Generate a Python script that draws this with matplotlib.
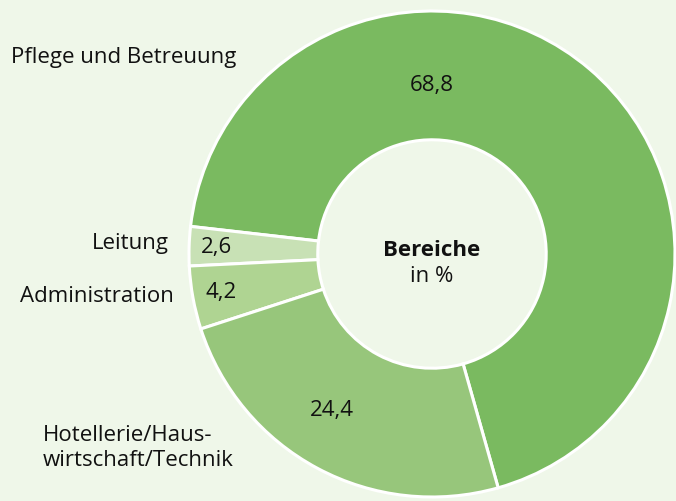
import numpy as np
import matplotlib.pyplot as plt

plt.rcParams['font.family'] = ['Open Sans', 'DejaVu Sans']

# data
bereiche = ['Pflege und Betreuung', 'Leitung', 'Administration',
            'Hotellerie/Haus-\nwirtschaft/Technik']
anteile = [68.8, 2.6, 4.2, 24.4]
werte_text = ['68,8', '2,6', '4,2', '24,4']
farben = ['#7aba60', '#c8e1b5', '#afd492', '#97c67b']

bg = '#eff7e9'
ink = '#111111'
fs = 16
W, H = 676, 501
fig = plt.figure(figsize=(W / 100, H / 100), dpi=100, facecolor=bg)
ax = fig.add_axes([0, 0, 1, 1])
ax.set_facecolor(bg)

cx, cy = 432, H - 254
R = 243
ring = 0.53

wedges, _ = ax.pie(anteile, colors=farben, startangle=-74.2, counterclock=True,
                   center=(cx, cy), radius=R,
                   wedgeprops=dict(width=R * ring, edgecolor='white', linewidth=2.2))
ax.set_xlim(0, W)
ax.set_ylim(0, H)
ax.set_aspect('equal')
ax.axis('off')

# value labels inside the ring (angle override, radius)
label_pos = [(90, 169), (None, 216), (None, 214), (None, 186)]
for w, txt, (ang, r) in zip(wedges, werte_text, label_pos):
    if ang is None:
        ang = (w.theta1 + w.theta2) / 2
    if txt == '24,4':
        ang -= 4.6
    x = cx + r * np.cos(np.radians(ang))
    y = cy + r * np.sin(np.radians(ang))
    ax.text(x, y, txt, ha='center', va='center', fontsize=fs, color=ink)

# category labels on the left
ax.text(11, H - 57, bereiche[0], ha='left', va='center', fontsize=fs, color=ink)
ax.text(169, H - 243, bereiche[1], ha='right', va='center', fontsize=fs, color=ink)
ax.text(174, H - 297, bereiche[2], ha='right', va='center', fontsize=fs, color=ink)
ax.text(43, H - 448, bereiche[3], ha='left', va='center', fontsize=fs, color=ink,
        linespacing=1.3)

# centre title
ax.text(cx, H - 250, 'Bereiche', ha='center', va='center', fontsize=fs,
        fontweight='bold', color=ink)
ax.text(cx, H - 276, 'in %', ha='center', va='center', fontsize=fs, color=ink)

fig.savefig('out.png', dpi=100, facecolor=bg)
